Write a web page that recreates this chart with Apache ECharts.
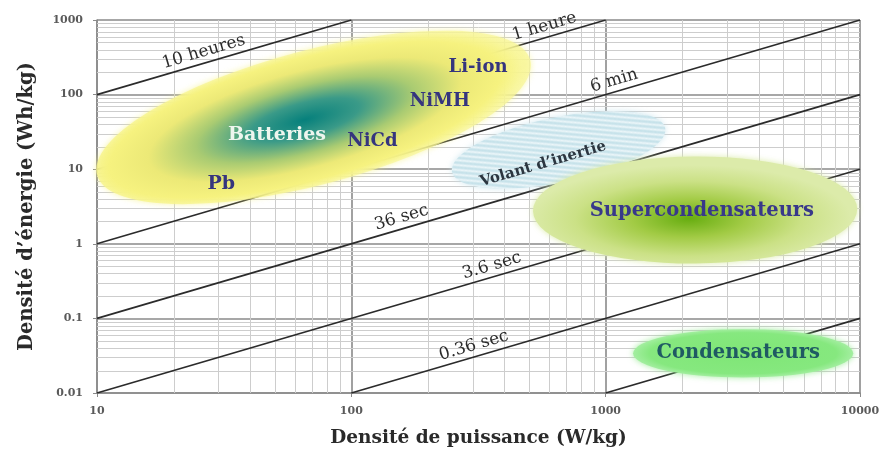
<!DOCTYPE html>
<html>
<head>
<meta charset="utf-8">
<script src="https://cdn.jsdelivr.net/npm/echarts@6/dist/echarts.min.js"></script>
<style>
  html, body { margin: 0; padding: 0; background: #fff; }
  #ragone { width: 880px; height: 452px; }
</style>
</head>
<body>
<div id="ragone"></div>
<script>
// bornes des axes (log)
const powerRange = [10, 10000];     // W/kg
const energyRange = [0.01, 1000];   // Wh/kg
const minorSteps = [2, 3, 4, 5, 6, 7, 8, 9];

// droites a duree constante : energie = puissance x duree (heures)
const durations = [10, 1, 0.1, 0.01, 0.001, 0.0001, 0.00001];
const durationLabels = ['10 heures', '1 heure', '6 min', '36 sec', '3.6 sec', '0.36 sec', ''];
const durationLabelPower = [27, 590, 1110, 162, 367, 312, null];

// zones des technologies (extremites du grand axe + epaisseur relative)
const zoneNames = ['Batteries', 'Volant d\u2019inertie', 'Supercondensateurs', 'Condensateurs'];
const zonePowerMin = [10, 249, 518, 1282];
const zoneEnergyAtMin = [8.4, 9.2, 2.75, 0.034];
const zonePowerMax = [505, 1714, 9750, 9400];
const zoneEnergyAtMax = [291, 35.7, 2.93, 0.034];
const zoneThickness = [0.3, 0.3, 0.33, 0.22];

// etiquettes
const techLabels = ['Li-ion', 'NiMH', 'NiCd', 'Batteries', 'Pb', 'Volant d\u2019inertie', 'Supercondensateurs', 'Condensateurs'];
const techLabelPower = [315, 223, 121, 51, 30.8, 567, 2390, 3320];
const techLabelEnergy = [234, 82, 23.9, 28.7, 6.3, 11.7, 2.75, 0.0344];

const SERIF = '"DejaVu Serif", "Liberation Serif", serif';

function decadesBetween(lo, hi) {
  const out = [];
  for (let d = lo; d < hi; d *= 10) minorSteps.forEach(s => out.push(+(d * s).toPrecision(3)));
  return out;
}
const powerMinor = decadesBetween(powerRange[0], powerRange[1]);
const energyMinor = decadesBetween(energyRange[0], energyRange[1]);

function hatchPattern() {
  const c = document.createElement('canvas');
  c.width = 5; c.height = 5;
  const g = c.getContext('2d');
  g.fillStyle = '#c6e2ea';
  g.fillRect(0, 0, 5, 5);
  g.strokeStyle = '#eef7fa';
  g.lineWidth = 1.4;
  g.beginPath();
  g.moveTo(0, 0); g.lineTo(5, 5);
  g.moveTo(-1, 4); g.lineTo(1, 6);
  g.moveTo(4, -1); g.lineTo(6, 1);
  g.stroke();
  return c;
}

const zoneFills = [
  { type: 'radial', x: 0.48, y: 0.5, r: 0.5, colorStops: [
    { offset: 0, color: '#06807c' }, { offset: 0.25, color: '#3a9a88' },
    { offset: 0.5, color: '#a9cb72' }, { offset: 0.72, color: '#ece977' },
    { offset: 0.9, color: '#f6f27f' }, { offset: 1, color: 'rgba(248,246,150,0.7)' } ] },
  { image: hatchPattern(), repeat: 'repeat' },
  { type: 'radial', x: 0.48, y: 0.58, r: 0.5, colorStops: [
    { offset: 0, color: '#67ad10' }, { offset: 0.35, color: '#a2cb45' },
    { offset: 0.7, color: '#cbe186' }, { offset: 1, color: '#dcebaa' } ] },
  { type: 'radial', x: 0.5, y: 0.5, r: 0.5, colorStops: [
    { offset: 0, color: '#7fe676' }, { offset: 0.85, color: '#86e87f' },
    { offset: 1, color: '#a3eea0' } ] }
];
const zoneGlow = ['rgba(246,242,130,0.9)', 'rgba(200,228,236,0.8)', 'rgba(215,233,160,0.9)', 'rgba(140,232,135,0.8)'];

const techLabelStyle = [
  { size: 18, color: '#35357e' },
  { size: 18, color: '#35357e' },
  { size: 18, color: '#35357e' },
  { size: 19, color: '#eef6ee' },
  { size: 19, color: '#35357e' },
  { size: 15, color: '#2c3640', rotate: true },
  { size: 19.5, color: '#38388a' },
  { size: 19.5, color: '#1f5a63' }
];

const chart = echarts.init(document.getElementById('ragone'));

const lineSeries = durations.map(t => {
  const p0 = Math.max(powerRange[0], energyRange[0] / t);
  const p1 = Math.min(powerRange[1], energyRange[1] / t);
  return {
    type: 'line', z: 3, silent: true, symbol: 'none',
    lineStyle: { color: '#2b2b2b', width: 1.7 },
    data: [[p0, p0 * t], [p1, p1 * t]]
  };
});

function lineAngle(api, p, e) {
  const a = api.coord([p, e]);
  const b = api.coord([p * 10, e * 10]);
  return Math.atan2(b[1] - a[1], b[0] - a[0]);
}

const shownDurations = durationLabels.filter(s => s);

chart.setOption({
  animation: false,
  grid: { left: 97, right: 20, top: 20, bottom: 59, outerBoundsMode: 'none', containLabel: false },
  xAxis: {
    type: 'log', logBase: 10, min: powerRange[0], max: powerRange[1], interval: 1,
    name: 'Densité de puissance (W/kg)', nameLocation: 'middle', nameGap: 36,
    nameTextStyle: { fontFamily: SERIF, fontWeight: 'bold', fontSize: 18.5, color: '#2a2a2a' },
    axisLine: { lineStyle: { color: '#8a8a8a', width: 1.5 } },
    axisTick: { show: true, length: 4, lineStyle: { color: '#8a8a8a' } },
    axisLabel: { fontFamily: SERIF, fontWeight: 'bold', fontSize: 11, color: '#5a5a5a', margin: 13,
      formatter: v => String(+v.toPrecision(3)) },
    splitLine: { show: true, lineStyle: { color: '#8a8a8a', width: 1.6 } }
  },
  yAxis: {
    type: 'log', logBase: 10, min: energyRange[0], max: energyRange[1], interval: 1,
    name: 'Densité d\u2019énergie (Wh/kg)', nameLocation: 'middle', nameGap: 60,
    nameTextStyle: { fontFamily: SERIF, fontWeight: 'bold', fontSize: 19.5, color: '#2a2a2a' },
    axisLine: { show: true, lineStyle: { color: '#8a8a8a', width: 1.5 } },
    axisTick: { show: true, length: 4, lineStyle: { color: '#8a8a8a' } },
    axisLabel: { fontFamily: SERIF, fontWeight: 'bold', fontSize: 11, color: '#5a5a5a', margin: 14,
      formatter: v => String(+v.toPrecision(3)) },
    splitLine: { show: true, lineStyle: { color: '#8a8a8a', width: 1.6 } }
  },
  series: [
    {
      // quadrillage secondaire vertical
      type: 'custom', z: 1, silent: true,
      data: powerMinor.map(p => [p, 1]),
      renderItem(params, api) {
        const cs = params.coordSys;
        const x = Math.round(api.coord([api.value(0), 1])[0]) + 0.5;
        return { type: 'line', shape: { x1: x, y1: cs.y, x2: x, y2: cs.y + cs.height },
          style: { stroke: '#cdcdcd', lineWidth: 1 } };
      }
    },
    {
      // quadrillage secondaire horizontal
      type: 'custom', z: 1, silent: true,
      data: energyMinor.map(e => [100, e]),
      renderItem(params, api) {
        const cs = params.coordSys;
        const y = Math.round(api.coord([100, api.value(1)])[1]) + 0.5;
        return { type: 'line', shape: { x1: cs.x, y1: y, x2: cs.x + cs.width, y2: y },
          style: { stroke: '#cdcdcd', lineWidth: 1 } };
      }
    },
    ...lineSeries,
    {
      // libelles des durees
      type: 'custom', z: 4, silent: true,
      data: durations.map((t, i) => [durationLabelPower[i] || 100, (durationLabelPower[i] || 100) * t])
        .filter((d, i) => durationLabels[i]),
      renderItem(params, api) {
        const p = api.value(0), e = api.value(1);
        const pt = api.coord([p, e]);
        const ang = lineAngle(api, p, e);
        const off = 11;
        return {
          type: 'text', x: pt[0] + Math.sin(ang) * off, y: pt[1] - Math.cos(ang) * off, rotation: -ang,
          style: { text: shownDurations[params.dataIndex], font: '17px ' + SERIF, fill: '#2b2b2b',
            align: 'center', verticalAlign: 'middle' }
        };
      }
    },
    {
      // zones
      type: 'custom', z: 5, silent: true,
      encode: { x: [0, 2], y: [1, 3] },
      data: zoneNames.map((n, i) => [zonePowerMin[i], zoneEnergyAtMin[i], zonePowerMax[i], zoneEnergyAtMax[i]]),
      renderItem(params, api) {
        const i = params.dataIndex;
        const a = api.coord([api.value(0), api.value(1)]);
        const b = api.coord([api.value(2), api.value(3)]);
        const rx = Math.hypot(b[0] - a[0], b[1] - a[1]) / 2;
        const ry = rx * zoneThickness[i];
        return {
          type: 'circle', x: (a[0] + b[0]) / 2, y: (a[1] + b[1]) / 2,
          rotation: -Math.atan2(b[1] - a[1], b[0] - a[0]), scaleX: rx / ry,
          shape: { cx: 0, cy: 0, r: ry },
          style: { fill: zoneFills[i], shadowBlur: 6, shadowColor: zoneGlow[i] }
        };
      }
    },
    {
      // noms des technologies
      type: 'custom', z: 6, silent: true,
      data: techLabels.map((n, i) => [techLabelPower[i], techLabelEnergy[i]]),
      renderItem(params, api) {
        const i = params.dataIndex;
        const st = techLabelStyle[i];
        const p = api.value(0), e = api.value(1);
        const pt = api.coord([p, e]);
        return {
          type: 'text', x: pt[0], y: pt[1], rotation: st.rotate ? -lineAngle(api, p, e) : 0,
          style: { text: techLabels[i], font: 'bold ' + st.size + 'px ' + SERIF, fill: st.color,
            align: 'center', verticalAlign: 'middle' }
        };
      }
    }
  ]
});
</script>
</body>
</html>
